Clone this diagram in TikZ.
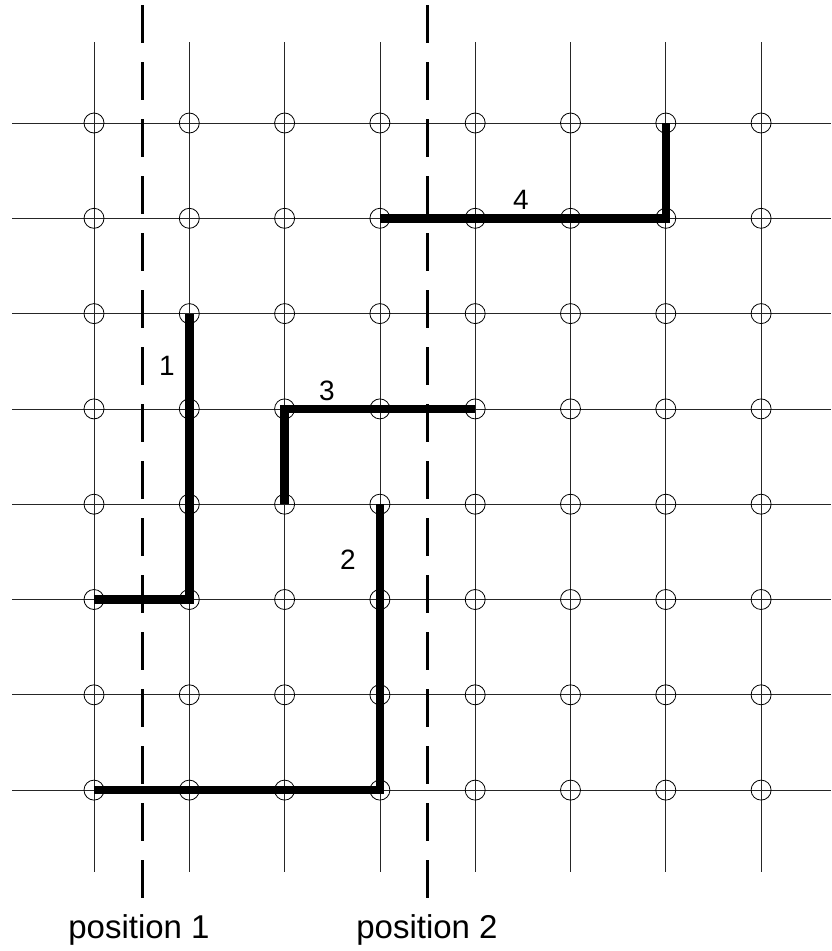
\documentclass[tikz,border=0pt]{standalone}
\usepackage{fontspec}
\setmainfont{Liberation Sans}
\usetikzlibrary{positioning}
\tikzstyle{site} = [circle, draw=black, line width=0.8pt, minimum size=20pt, inner sep=0pt]
\tikzstyle{gridline} = [line width=0.8pt, draw=black!85]
\tikzstyle{cut} = [line width=3pt, dash pattern=on 38pt off 19pt]
\tikzstyle{chain} = [line width=8.5pt, line cap=butt, line join=miter]
\tikzstyle{tag} = [font=\fontsize{28}{30}\selectfont, inner sep=0pt]
\tikzstyle{poslabel} = [font=\fontsize{33}{36}\selectfont, inner sep=0pt]

\begin{document}
\begin{tikzpicture}[x=1pt, y=-1pt]
  \useasboundingbox (0,0) rectangle (831,951);
  % grid lines
  \foreach \i in {1,...,8} {
    \pgfmathsetmacro{\gx}{94+95.3*(\i-1)}
    \pgfmathsetmacro{\gy}{123+95.3*(\i-1)}
    \draw[gridline] (\gx,42) -- (\gx,872);
    \draw[gridline] (12,\gy) -- (831,\gy);
  }
  % lattice sites
  \foreach \i in {1,...,8} {
    \foreach \j in {1,...,8} {
      \pgfmathsetmacro{\gx}{94+95.3*(\i-1)}
      \pgfmathsetmacro{\gy}{123+95.3*(\j-1)}
      \node[site] (v-\i-\j) at (\gx,\gy) {};
    }
  }
  % cutting positions
  \coordinate (cut1top) at (142,5);
  \coordinate (cut1bot) at (142,898);
  \coordinate (cut2top) at (427.5,5);
  \coordinate (cut2bot) at (427.5,898);
  \draw[cut] (cut1top) -- (cut1bot);
  \draw[cut] (cut2top) -- (cut2bot);
  \node[poslabel] (pos1) at (139,930) {position 1};
  \node[poslabel] (pos2) at (427,930) {position 2};

  % chains
  \draw[chain] (v-1-6.center) -- (v-2-6.center) -- (v-2-3.center);
  \draw[chain] (v-1-8.center) -- (v-4-8.center) -- (v-4-5.center);
  \draw[chain] (v-3-5.center) -- (v-3-4.center) -- (v-5-4.center);
  \draw[chain] (v-4-2.center) -- (v-7-2.center) -- (v-7-1.center);
  \node[tag] (num1) at (167,366) {1};
  \node[tag] (num2) at (348,560) {2};
  \node[tag] (num3) at (327,391) {3};
  \node[tag] (num4) at (521,200) {4};
\end{tikzpicture}
\end{document}
